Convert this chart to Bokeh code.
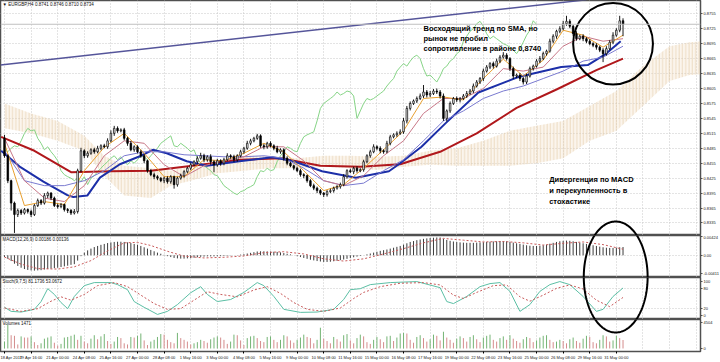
import numpy as np
from bokeh.plotting import figure
from bokeh.layouts import column
from bokeh.models import FixedTicker, Range1d, Label, Span, Grid, PrintfTickFormatter
from bokeh.embed import file_html
from bokeh.resources import INLINE
from bokeh.core.properties import value

# ---------------- data ----------------
symbol = "EURGBP,H4"
open0 = 0.8505
close = [0.8470,0.8420,0.8375,0.8352,0.8360,0.8355,0.8362,0.8358,0.8352,0.8370,
 0.8380,0.8375,0.8390,0.8395,0.8385,0.8370,0.8368,0.8372,0.8362,0.8360,
 0.8355,0.8358,0.8440,0.8480,0.8470,0.8475,0.8482,0.8478,0.8485,0.8490,
 0.8488,0.8500,0.8515,0.8525,0.8520,0.8522,0.8505,0.8495,0.8482,0.8488,
 0.8478,0.8470,0.8460,0.8440,0.8432,0.8428,0.8425,0.8420,0.8425,0.8418,
 0.8428,0.8412,0.8425,0.8430,0.8438,0.8445,0.8452,0.8458,0.8465,0.8470,
 0.8462,0.8468,0.8458,0.8452,0.8460,0.8455,0.8462,0.8470,0.8468,0.8462,
 0.8470,0.8478,0.8485,0.8495,0.8500,0.8505,0.8510,0.8490,0.8488,0.8495,
 0.8490,0.8485,0.8478,0.8482,0.8465,0.8455,0.8450,0.8445,0.8440,0.8432,
 0.8430,0.8420,0.8410,0.8405,0.8400,0.8395,0.8392,0.8398,0.8400,0.8405,
 0.8408,0.8412,0.8428,0.8440,0.8438,0.8445,0.8440,0.8442,0.8458,0.8470,
 0.8478,0.8488,0.8485,0.8480,0.8478,0.8495,0.8508,0.8512,0.8515,0.8518,
 0.8540,0.8565,0.8575,0.8580,0.8585,0.8590,0.8598,0.8592,0.8595,0.8600,
 0.8598,0.8590,0.8545,0.8560,0.8575,0.8585,0.8582,0.8585,0.8590,0.8595,
 0.8600,0.8610,0.8618,0.8625,0.8640,0.8648,0.8655,0.8650,0.8660,0.8668,
 0.8672,0.8665,0.8645,0.8630,0.8632,0.8625,0.8618,0.8630,0.8645,0.8650,
 0.8660,0.8665,0.8675,0.8680,0.8700,0.8710,0.8720,0.8725,0.8735,0.8740,
 0.8730,0.8715,0.8705,0.8710,0.8705,0.8700,0.8695,0.8692,0.8688,0.8682,
 0.8675,0.8685,0.8698,0.8712,0.8722,0.8741,0.8734]
wick_up = [7,3,2,3,4,3,3,2,4,3, 4,3,5,3,2,3,4,3,2,3, 3,5,4,6,3,4,3,4,5,3,
 4,5,6,5,4,3,4,3,5,3, 3,4,3,2,3,4,3,2,3,4, 3,2,3,4,3,3,4,3,4,6,
 4,3,5,3,4,3,4,5,3,4, 3,4,3,5,4,3,4,3,4,3, 4,3,5,3,3,4,3,2,3,4,
 3,2,3,4,3,3,2,3,4,3, 3,4,5,3,4,3,4,3,4,3, 4,5,3,4,3,5,4,3,4,5,
 6,5,4,3,4,5,14,4,5,4, 5,4,5,3,4,3,4,3,4,5, 4,5,4,3,5,4,3,4,5,4,
 6,4,3,4,3,4,3,5,4,3, 4,5,4,3,5,4,3,5,6,11, 4,3,5,3,4,3,4,3,4,3,
 4,5,4,6,4,10,5]
wick_dn = [4,5,15,37,5,4,3,4,5,3, 3,4,3,5,4,3,4,3,4,5, 4,3,4,3,5,4,3,4,3,4,
 3,4,3,5,4,3,4,5,3,4, 3,4,5,4,3,5,4,3,5,4, 4,8,4,3,4,3,4,3,4,3,
 5,4,6,15,4,5,4,3,4,5, 4,3,4,3,4,3,3,4,5,4, 3,4,3,4,5,4,3,4,3,4,
 5,4,3,4,5,4,5,4,3,4, 3,4,3,4,3,5,4,3,4,3, 4,3,4,5,4,3,4,3,4,3,
 4,5,4,3,4,3,4,5,4,3, 4,5,5,6,4,3,4,5,3,4, 3,4,3,4,5,3,4,5,3,4,
 3,4,5,6,4,5,5,4,3,4, 3,4,3,4,3,4,5,4,3,4, 4,5,4,3,5,4,3,4,5,4,
 17,4,3,4,3,4,24]
volume = [1200,4100,2300,2200,700,2100,1900,1900,2100,1100,
 600,900,1700,1900,2100,1000,500,800,1900,2000,
 2200,2400,1500,2200,1200,900,1700,2300,1600,2100,
 2500,1300,800,1200,2000,1800,900,700,2000,1900,
 2200,2600,1400,600,1200,1500,2000,2500,2400,1500,
 1100,900,2700,1800,1500,1200,700,900,1100,1500,
 1300,1000,1600,1900,2100,1900,1500,800,1200,2400,
 2300,1400,600,1800,2100,2200,1800,1300,1100,2000,
 2100,1500,1100,1500,2300,2100,1400,1000,1500,1900,
 2400,2000,1800,900,1500,3600,1700,1300,900,2000,
 1600,1200,2300,2500,1400,900,1800,2400,2100,1100,
 800,1500,2000,1600,1100,2100,2200,1300,1900,2600,
 2700,2600,1500,1000,2000,2300,1800,1200,1600,2400,
 2200,1400,2900,1900,1500,1000,1700,2100,1800,1200,
 2000,2300,1600,1100,1900,2200,2400,1500,1200,1800,
 2100,1500,2300,1700,1300,1000,1600,2000,1800,1100,
 1400,1900,2200,2300,1500,1100,1200,1500,1300,900,
 1600,1900,1300,1000,1700,2200,2000,1100,900,1500,
 2300,2100,1200,1400,2200,1800,1471]
macd_main = [-40,-80,-130,-190,-240,-280,-310,-330,-340,-345,
 -340,-335,-320,-310,-300,-290,-280,-265,-250,-235,
 -215,-200,-120,-20,60,110,150,185,210,235,
 255,275,290,300,305,305,300,290,275,255,
 235,210,180,150,120,90,60,35,10,-20,
 -40,-60,-70,-75,-75,-70,-65,-55,-45,-35,
 -30,-25,-25,-25,-22,-20,-15,-10,-5,0,
 5,15,25,40,55,70,85,90,90,88,
 85,80,75,65,50,35,20,0,-20,-40,
 -60,-80,-100,-115,-130,-140,-150,-150,-145,-135,
 -125,-110,-95,-80,-60,-45,-30,-15,0,20,
 40,60,80,100,115,130,150,170,190,210,
 240,270,300,320,340,355,370,380,390,395,
 400,400,370,345,325,310,300,290,285,280,
 280,280,285,290,295,300,305,310,315,320,
 320,315,300,285,270,255,240,225,215,210,
 210,215,225,240,260,280,300,315,325,330,
 325,315,300,285,270,255,240,225,210,195,
 180,170,165,165,170,180,186]
macd_sig_bars = [0,5,10,16,21,26,31,36,40,44,49,54,60,66,72,78,84,90,96,102,108,114,120,126,132,138,144,150,156,162,168,174,180,186]
macd_sig = [-40,-200,-300,-310,-260,-120,100,280,290,220,90,-20,-60,-45,-15,60,80,30,-80,-130,-80,30,150,280,380,340,300,310,280,230,270,300,240,136]
stoch_main_bars = [0,2,5,9,11,13,15,17,19,21,24,27,32,34,37,39,42,46,49,52,56,59,61,64,68,72,76,78,81,84,89,94,99,102,104,107,110,116,124,131,133,135,139,143,146,149,152,155,158,161,164,167,170,174,178,180,183,186]
stoch_main = [24,12,10,18,41,79,62,38,20,56,88,97,97,91,76,41,24,3,12,32,67,85,62,41,47,68,97,88,56,18,9,10,18,47,76,79,91,97,100,82,41,35,56,85,94,97,71,12,32,71,91,100,91,56,12,18,56,81.1736]
stoch_sig_bars = [0,5,10,14,17,20,24,28,33,37,41,45,49,53,57,61,65,70,75,79,83,87,91,96,101,105,108,113,119,126,131,135,138,142,147,151,155,158,162,166,170,174,178,182,186]
stoch_sig = [22,12,20,42,55,45,62,88,97,85,60,35,18,20,45,70,62,55,75,85,65,38,18,12,22,50,68,85,95,97,90,60,50,68,88,90,55,42,60,80,90,78,45,26,53.0672]
ma_bars = list(range(0, 187, 6))
ma_fast = [0.8495,0.8370,0.8378,0.8372,0.8440,0.8487,0.8515,0.8475,0.8428,0.8428,0.8462,0.8460,0.8475,0.8495,0.8478,0.8440,
 0.8400,0.8412,0.8445,0.8482,0.8520,0.8585,0.8588,0.8582,0.8625,0.8664,0.8630,0.8662,0.8722,0.8712,0.8688,0.8712]
ma_mid = [0.8505,0.8420,0.8385,0.8378,0.8410,0.8470,0.8500,0.8495,0.8452,0.8428,0.8450,0.8460,0.8468,0.8488,0.8488,0.8460,
 0.8420,0.8410,0.8430,0.8470,0.8500,0.8555,0.8585,0.8585,0.8605,0.8645,0.8640,0.8648,0.8690,0.8710,0.8700,0.8705]
ma_base = [0.8480,0.8420,0.8410,0.8410,0.8420,0.8440,0.8470,0.8478,0.8478,0.8472,0.8470,0.8468,0.8468,0.8470,0.8465,0.8445,
 0.8420,0.8410,0.8415,0.8440,0.8462,0.8500,0.8540,0.8560,0.8585,0.8600,0.8610,0.8625,0.8640,0.8660,0.8668,0.8690]
sma_blue_bars = [-1,4.8,11.7,18.9,20.7,24.9,28.7,34.7,40.7,44.6,48.8,54.8,60.8,70.7,80.5,86.5,95.5,105.7,115.6,118.6,125.4,132.6,142.5,154.5,167.4,175.4,180.5,185.3]
sma_blue = [0.8480,0.8447,0.8418,0.8391,0.8387,0.8390,0.8426,0.8453,0.8469,0.8482,0.8475,0.8459,0.8450,0.8459,0.8467,0.8460,0.8439,0.8426,0.8439,0.8453,0.8488,0.8535,0.8597,0.8628,0.8648,0.8652,0.8673,0.8700]
sma_red_bars = [-1,9,20,32,44,59,71,83,95,107,119,131,142,154,166,178,186]
sma_red = [0.8508,0.8480,0.8437,0.8439,0.8440,0.8452,0.8462,0.8465,0.8450,0.8448,0.8453,0.8478,0.8515,0.8566,0.8603,0.8642,0.8665]
cloud_bars = [0,8,16,24,30,36,44,50,56,64,72,80,88,96,104,112,120,128,136,144,152,160,168,176,184,192,200,206,212]
cloud_hi = [0.8575,0.8555,0.8540,0.8510,0.8470,0.8450,0.8445,0.8440,0.8450,0.8460,0.8470,0.8470,0.8465,0.8470,0.8470,0.8468,0.8470,0.8480,0.8485,0.8500,0.8520,0.8530,0.8540,0.8570,0.8600,0.8650,0.8690,0.8698,0.8700]
cloud_lo = [0.8525,0.8515,0.8500,0.8480,0.8430,0.8390,0.8385,0.8410,0.8420,0.8435,0.8440,0.8445,0.8445,0.8448,0.8445,0.8442,0.8448,0.8452,0.8450,0.8450,0.8450,0.8455,0.8465,0.8500,0.8520,0.8570,0.8620,0.8632,0.8635]
chikou_shift = 26
trend_bars = [-1.2, 175.0]
trend_prices = [0.86523, 0.87830]
date_ticks = list(range(0, 185, 8))
date_labels = ["18 Apr 2017","19 Apr 16:00","21 Apr 00:00","24 Apr 08:00","25 Apr 16:00","27 Apr 00:00",
 "28 Apr 08:00","1 May 16:00","3 May 00:00","4 May 08:00","5 May 16:00","9 May 00:00","10 May 08:00",
 "11 May 16:00","15 May 00:00","16 May 08:00","17 May 16:00","19 May 00:00","22 May 08:00","23 May 16:00",
 "25 May 00:00","26 May 08:00","29 May 16:00","31 May 00:00"]
price_ticks = [0.8305,0.8335,0.8365,0.8395,0.8425,0.8455,0.8485,0.8515,0.8545,0.8575,0.8605,0.8635,0.8665,0.8695,0.8725,0.8755]
note1 = ["Восходящий тренд по SMA, но", "рынок не пробил", "сопротивление в районе 0,8740"]
note1_bar, note1_prices = 126.0, [0.87262, 0.87057, 0.86851]
note2 = ["Дивергенция по MACD", "и перекупленность в", "стохастике"]
note2_bar, note2_prices = 163.8, [0.84221, 0.83995, 0.83790]
circle1 = dict(bar=183.0, price=0.8695, w=24.0, h=0.0164)
ellipse2 = dict(bar=183.8, half_w=9.6, top_price=0.8338, bottom_volume=2775)

# ---------------- derived ----------------
n = len(close)
bars = np.arange(n)
opens = [open0] + close[:-1]
hi = [max(o, c) + u * 1e-4 for o, c, u in zip(opens, close, wick_up)]
lo = [min(o, c) - d * 1e-4 for o, c, d in zip(opens, close, wick_dn)]
top = [max(o, c) for o, c in zip(opens, close)]
bot = [min(o, c) for o, c in zip(opens, close)]
body_col = ["white" if c >= o else "black" for o, c in zip(opens, close)]
vol_col = ["#74b474"] + ["#74b474" if volume[i] > volume[i - 1] else "#d48c8c" for i in range(1, n)]
macd_v = [m * 1e-5 for m in macd_main]
macd_s = [m * 1e-5 for m in macd_sig]

FONT = value("Liberation Sans")
FW = 700
H_MAIN, H_MACD, H_STO, H_VOL = 235, 42, 42, 32
xr = Range1d(-1.2, 209.3)
vgrid = list(range(0, 210, 8))

def panel(h, yr, ticks, xaxis=False):
    p = figure(frame_width=FW, frame_height=h, x_range=xr, y_range=yr,
               output_backend="svg", toolbar_location=None,
               x_axis_location="below" if xaxis else None, y_axis_location="right",
               min_border_left=0, min_border_right=20, min_border_top=0, min_border_bottom=0)
    p.background_fill_color = "white"
    p.border_fill_color = "white"
    p.outline_line_color = "#505050"
    p.outline_line_width = 1.5
    p.grid.visible = False
    ya = p.yaxis[0]
    ya.ticker = FixedTicker(ticks=ticks)
    ya.major_label_text_font_size = "4px"
    ya.major_label_text_font = "Liberation Sans"
    ya.major_label_text_color = "#202020"
    ya.major_tick_out = 2
    ya.major_tick_in = 0
    ya.minor_tick_out = 0
    ya.minor_tick_in = 0
    ya.major_label_standoff = 1
    ya.axis_line_color = "#505050"
    ya.major_tick_line_color = "#505050"
    p.add_layout(Grid(dimension=0, ticker=FixedTicker(ticks=vgrid), grid_line_color="#c8c8c8",
                      grid_line_dash="1 2", grid_line_width=1))
    return p

def hgrid(p, ticks):
    p.add_layout(Grid(dimension=1, ticker=FixedTicker(ticks=ticks), grid_line_color="#c8c8c8",
                      grid_line_dash="1 2", grid_line_width=1))

def corner_text(p, yr, h, txt):
    y = yr.end - 1.5 * (yr.end - yr.start) / h
    p.text(x=[xr.start + 0.6], y=[y], text=[txt], text_font=FONT, text_font_size="4.5px",
           text_baseline="top", text_align="left", text_color="#101010")

# ---------------- main panel ----------------
yr_main = Range1d(0.83099, 0.87817)
pm = panel(H_MAIN, yr_main, price_ticks)
pm.yaxis[0].formatter = PrintfTickFormatter(format="%.4f")
hgrid(pm, price_ticks)
pm.varea(x=cloud_bars, y1=cloud_lo, y2=cloud_hi, fill_color="#f3e3cc", fill_alpha=0.35,
         hatch_pattern="vertical_line", hatch_color="#dcbc90", hatch_alpha=0.45,
         hatch_scale=3.3, hatch_weight=1)
pm.add_layout(Span(location=close[-1], dimension="width", line_color="#c0c0c0", line_width=1))
pm.line(trend_bars, trend_prices, line_color="#55559a", line_width=1.5)
pm.line(list(bars[:n - chikou_shift]), close[chikou_shift:], line_color="#86d486", line_width=1)
pm.line(sma_red_bars, sma_red, line_color="#b0181c", line_width=2)
pm.line(sma_blue_bars, sma_blue, line_color="#1c2fa8", line_width=2)
pm.line(ma_bars, ma_base, line_color="#7a7ad0", line_width=1)
pm.line(ma_bars, ma_mid, line_color="#c87888", line_width=1)
pm.line(ma_bars, ma_fast, line_color="#e8a030", line_width=1)
pm.segment(x0=bars, y0=hi, x1=bars, y1=lo, line_color="black", line_width=0.9)
pm.vbar(x=bars, width=0.48, top=top, bottom=bot, fill_color=body_col, line_color="black", line_width=0.7)
for txt, pr in zip(note1, note1_prices):
    pm.text(x=[note1_bar], y=[pr], text=[txt], text_font=FONT, text_font_style="bold",
            text_font_size="7.5px", text_baseline="middle", text_align="left", text_color="black")
for txt, pr in zip(note2, note2_prices):
    pm.text(x=[note2_bar], y=[pr], text=[txt], text_font=FONT, text_font_style="bold",
            text_font_size="7.5px", text_baseline="middle", text_align="left", text_color="black")
pm.ellipse(x=[circle1["bar"]], y=[circle1["price"]], width=circle1["w"], height=circle1["h"],
           fill_color=None, line_color="black", line_width=2)
corner_text(pm, yr_main, H_MAIN, "\u25bc %s %.4f %.4f %.4f %.4f" % (symbol, opens[-1], hi[-1], lo[-1], close[-1]))
pm.add_layout(Label(x=xr.end, y=close[-1], text="%.4f" % close[-1], text_font_size="4px",
                    text_font="Liberation Sans", text_color="white", background_fill_color="black",
                    text_baseline="middle", text_align="left", x_offset=1))

# ---------------- MACD ----------------
yr_macd = Range1d(-0.0050, 0.00445)
pmacd = panel(H_MACD, yr_macd, [-0.00411, 0, 0.00424])
pmacd.yaxis[0].major_label_overrides = {-0.00411: "-0.00411", 0: "0.00", 0.00424: "0.00424"}
hgrid(pmacd, [0])
pmacd.segment(x0=bars, y0=0, x1=bars, y1=macd_v, line_color="#3c3c3c", line_width=1)
pmacd.line(macd_sig_bars, macd_s, line_color="#c85a5a", line_width=1, line_dash="2 2")
corner_text(pmacd, yr_macd, H_MACD, "MACD(12,26,9) %.5f %.5f" % (macd_v[-1], macd_s[-1]))

# ---------------- Stochastic ----------------
yr_sto = Range1d(-12, 112)
psto = panel(H_STO, yr_sto, [0, 20, 80, 100])
hgrid(psto, [20, 80])
psto.line(stoch_main_bars, stoch_main, line_color="#5cbfa5", line_width=1)
psto.line(stoch_sig_bars, stoch_sig, line_color="#c85a5a", line_width=1, line_dash="2 2")
corner_text(psto, yr_sto, H_STO, "Stoch(9,7,5) %.4f %.4f" % (stoch_main[-1], stoch_sig[-1]))

# ---------------- Volumes ----------------
yr_vol = Range1d(-520, 5024)
pvol = panel(H_VOL, yr_vol, [0, 4504], xaxis=True)
pvol.segment(x0=bars, y0=0, x1=bars, y1=volume, line_color=vol_col, line_width=1)
corner_text(pvol, yr_vol, H_VOL, "Volumes %d" % volume[-1])
xa = pvol.xaxis[0]
xa.ticker = FixedTicker(ticks=date_ticks)
xa.major_label_overrides = {t: l for t, l in zip(date_ticks, date_labels)}
xa.major_label_text_font_size = "4px"
xa.major_label_text_font = "Liberation Sans"
xa.major_label_text_align = "left"
xa.major_label_text_color = "#202020"
xa.major_tick_out = 2
xa.major_tick_in = 0
xa.minor_tick_out = 0
xa.minor_tick_in = 0
xa.major_label_standoff = 1
xa.axis_line_color = "#505050"

# ---------------- ellipse spanning the lower panels ----------------
panels = [(pm, yr_main, 0, H_MAIN), (pmacd, yr_macd, H_MAIN, H_MACD),
          (psto, yr_sto, H_MAIN + H_MACD, H_STO), (pvol, yr_vol, H_MAIN + H_MACD + H_STO, H_VOL)]
def to_px(val, yr, off, h):
    return off + (yr.end - val) / (yr.end - yr.start) * h
def from_px(py, yr, off, h):
    return yr.end - (py - off) / h * (yr.end - yr.start)
py_top = to_px(ellipse2["top_price"], yr_main, 0, H_MAIN)
py_bot = to_px(ellipse2["bottom_volume"], yr_vol, H_MAIN + H_MACD + H_STO, H_VOL)
cy, ry = (py_top + py_bot) / 2, (py_bot - py_top) / 2
t = np.linspace(0, 2 * np.pi, 181)
ex = ellipse2["bar"] + ellipse2["half_w"] * np.cos(t)
epy = cy + ry * np.sin(t)
for p, yr, off, h in panels:
    p.line(list(ex), [from_px(v, yr, off, h) for v in epy], line_color="black", line_width=2)

layout = column(pm, pmacd, psto, pvol, spacing=0)
open("out.html", "w").write(file_html(layout, INLINE))
